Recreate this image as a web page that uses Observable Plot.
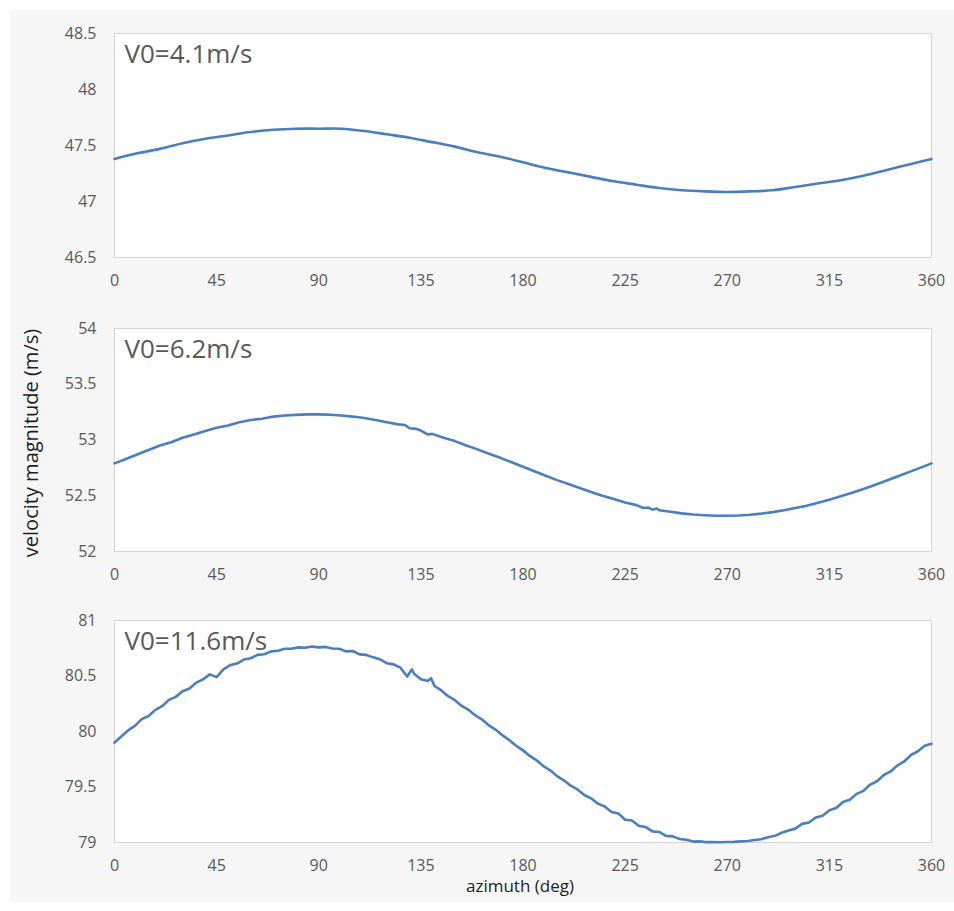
<!DOCTYPE html>
<html>
<head>
<meta charset="utf-8">
<script src="https://cdn.jsdelivr.net/npm/d3@7"></script>
<script src="https://cdn.jsdelivr.net/npm/@observablehq/plot@0.6"></script>
<style>
  html, body { margin: 0; padding: 0; background: #ffffff; }
  #page { position: relative; width: 954px; height: 911px; overflow: hidden; font-family: "Open Sans", sans-serif; }
  #bg { position: absolute; left: 10px; top: 10px; width: 944px; height: 892px; background: #f6f6f6; }
  .panel { position: absolute; left: 0; }
  .xtitle { position: absolute; left: 420px; width: 200px; text-align: center; top: 877px; line-height: 18px; font-size: 17px; color: #1e1e1e; }
  .ytitle { position: absolute; left: 31px; top: 443px; transform: translate(-50%, -50%) rotate(-90deg); white-space: nowrap; line-height: 22px; font-size: 20px; color: #1e1e1e; }
</style>
</head>
<body>
<div id="page">
  <div id="bg"></div>
</div>
<script>
// ---- data ----
const xTicks = [0, 45, 90, 135, 180, 225, 270, 315, 360];
const titles = ["V0=4.1m/s", "V0=6.2m/s", "V0=11.6m/s"];
const xAxisTitle = "azimuth (deg)";
const yAxisTitle = "velocity magnitude (m/s)";

const yTicks1 = [46.5, 47, 47.5, 48, 48.5];
const yTicks2 = [52, 52.5, 53, 53.5, 54];
const yTicks3 = [79, 79.5, 80, 80.5, 81];

const azimuth1 = [0,10,20,30,40,50,60,70,80,90,100,110,120,130,140,150,160,170,180,190,200,210,220,230,240,250,260,270,280,290,300,310,320,330,340,350,360];
const velocity1 = [47.38,47.43,47.47,47.52,47.56,47.59,47.62,47.64,47.65,47.65,47.65,47.63,47.60,47.57,47.53,47.49,47.44,47.40,47.35,47.30,47.26,47.22,47.18,47.15,47.12,47.10,47.09,47.085,47.09,47.10,47.13,47.16,47.19,47.23,47.28,47.33,47.38];

const azimuth2 = [0,5,10,15,20,25,30,35,40,45,50,55,60,65,70,75,80,85,90,95,100,105,110,115,120,125,128,130,133,135,138,140,145,150,155,160,165,170,175,180,185,190,195,200,205,210,215,220,225,230,233,235,237,239,240,245,250,255,260,265,270,275,280,285,290,295,300,305,310,315,320,325,330,335,340,345,350,355,360];
const velocity2 = [52.79,52.83,52.87,52.91,52.95,52.98,53.02,53.05,53.08,53.11,53.13,53.16,53.18,53.19,53.21,53.22,53.225,53.23,53.23,53.227,53.22,53.21,53.197,53.18,53.16,53.14,53.135,53.105,53.10,53.085,53.05,53.055,53.02,52.99,52.95,52.916,52.877,52.84,52.80,52.76,52.72,52.68,52.64,52.605,52.57,52.534,52.50,52.47,52.44,52.416,52.39,52.395,52.375,52.385,52.37,52.356,52.342,52.332,52.325,52.32,52.32,52.323,52.33,52.34,52.353,52.37,52.39,52.41,52.437,52.465,52.495,52.527,52.56,52.597,52.634,52.673,52.712,52.75,52.79];

const azimuth3 = [0,3,6,9,12,15,18,21,24,27,30,33,36,39,42,45,48,51,54,57,60,63,66,69,72,75,78,81,84,87,90,93,96,99,102,105,108,111,114,117,120,123,126,129,131,132,135,138,139.5,141,144,147,150,153,156,159,162,165,168,171,174,177,180,183,186,189,192,195,198,201,204,207,210,213,216,219,222,225,228,231,234,237,240,243,246,249,252,255,258,261,264,267,270,273,276,279,282,285,288,291,294,297,300,303,306,309,312,315,318,321,324,327,330,333,336,339,342,345,348,351,354,357,360];
const velocity3 = [79.900,79.955,80.010,80.050,80.112,80.140,80.195,80.228,80.285,80.312,80.362,80.388,80.440,80.470,80.515,80.490,80.560,80.598,80.612,80.648,80.660,80.690,80.696,80.722,80.728,80.745,80.745,80.758,80.755,80.765,80.758,80.762,80.748,80.745,80.722,80.725,80.695,80.690,80.668,80.650,80.615,80.605,80.575,80.495,80.560,80.520,80.470,80.455,80.480,80.410,80.370,80.318,80.282,80.230,80.195,80.145,80.108,80.055,80.015,79.965,79.922,79.872,79.830,79.780,79.740,79.688,79.650,79.598,79.560,79.512,79.478,79.428,79.398,79.350,79.325,79.275,79.262,79.205,79.198,79.150,79.140,79.100,79.095,79.060,79.055,79.032,79.025,79.008,79.010,79.003,79.005,79.002,79.004,79.006,79.010,79.014,79.022,79.030,79.048,79.060,79.088,79.108,79.125,79.168,79.180,79.225,79.240,79.290,79.310,79.365,79.385,79.438,79.465,79.522,79.552,79.608,79.640,79.695,79.730,79.790,79.822,79.872,79.890];

// ---- drawing ----
const panels = [
  {az: azimuth1, v: velocity1, yTicks: yTicks1, title: titles[0], top: 0,   mb: 33, curve: "catmull-rom"},
  {az: azimuth2, v: velocity2, yTicks: yTicks2, title: titles[1], top: 295, mb: 34, curve: "linear"},
  {az: azimuth3, v: velocity3, yTicks: yTicks3, title: titles[2], top: 587, mb: 35, curve: "linear"}
];

const page = document.getElementById("page");
const lineColor = "#4a7ebf";

for (const p of panels) {
  const data = p.az.map((a, i) => ({a, v: p.v[i]}));
  const chart = Plot.plot({
    width: 954,
    height: 285,
    marginLeft: 114,
    marginRight: 23,
    marginTop: 33,
    marginBottom: p.mb - 5,
    style: {background: "transparent", fontFamily: "Open Sans, sans-serif", fontSize: "16px", color: "#595959", overflow: "visible"},
    x: {domain: [0, 360], ticks: xTicks, tickSize: 0, tickPadding: 17, label: null, tickFormat: d => String(d)},
    y: {domain: [p.yTicks[0], p.yTicks[p.yTicks.length - 1]], ticks: p.yTicks, tickSize: 0, tickPadding: 18, label: null, tickFormat: d => String(d)},
    marks: [
      Plot.frame({fill: "white", stroke: "#d4d4d4", strokeWidth: 1}),
      Plot.line(data, {x: "a", y: "v", stroke: lineColor, strokeWidth: 2.6, curve: p.curve}),
      Plot.text([p.title], {text: d => d, frameAnchor: "top-left", textAnchor: "start", lineAnchor: "top", dx: 10, dy: 11, fontSize: 26, fill: "#595959"})
    ]
  });
  chart.classList.add("panel");
  chart.style.top = p.top + "px";
  page.appendChild(chart);
}

const xt = document.createElement("div");
xt.className = "xtitle";
xt.textContent = xAxisTitle;
page.appendChild(xt);

const yt = document.createElement("div");
yt.className = "ytitle";
yt.textContent = yAxisTitle;
page.appendChild(yt);
</script>
</body>
</html>
